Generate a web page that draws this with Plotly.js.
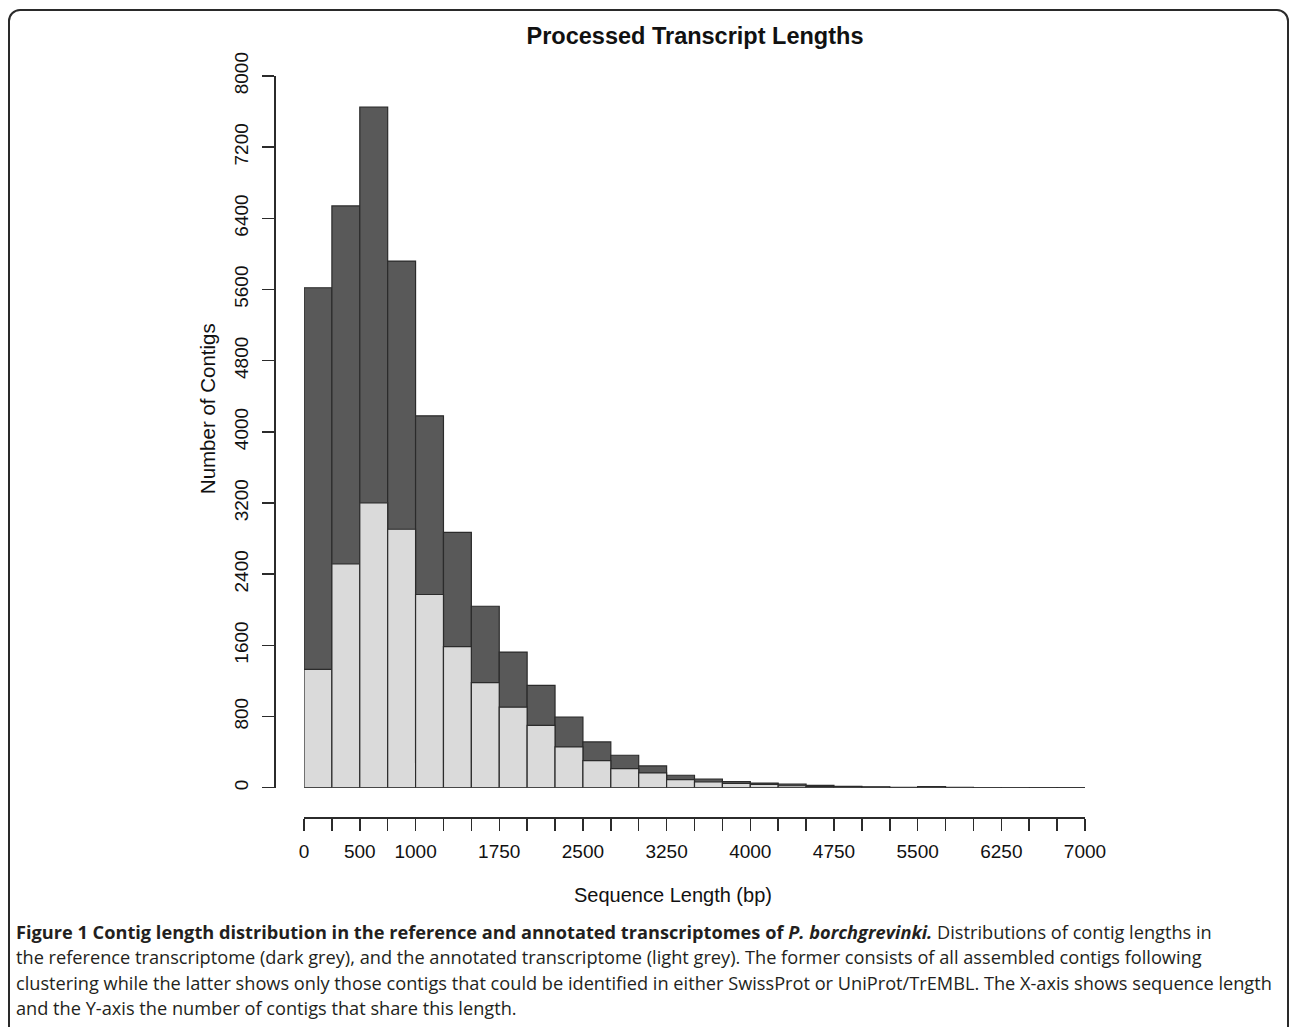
<!DOCTYPE html>
<html>
<head>
<meta charset="utf-8">
<script src="https://cdn.plot.ly/plotly-3.0.1.min.js"></script>
<style>
  html, body { margin: 0; padding: 0; background: #fff; }
  #wrap { position: relative; width: 1290px; height: 1027px; overflow: hidden; }
  #frame { position: absolute; left: 8px; top: 9px; width: 1281px; height: 1100px;
           border: 2px solid #2a2a2a; border-radius: 12px; box-sizing: border-box; }
  #chart { position: absolute; left: 0; top: 0; width: 1290px; height: 1027px; }
</style>
</head>
<body>
<div id="wrap">
  <div id="frame"></div>
  <div id="chart"></div>
</div>
<script>
// Bin starts (bp), bin width 250
const binStarts = [0, 250, 500, 750, 1000, 1250, 1500, 1750, 2000, 2250, 2500, 2750, 3000, 3250,
                   3500, 3750, 4000, 4250, 4500, 4750, 5000, 5250, 5500, 5750, 6000, 6250, 6500, 6750];
const binWidth = 250;
// Reference transcriptome (dark grey)
const referenceCounts = [5620, 6540, 7650, 5920, 4180, 2870, 2040, 1525, 1150, 795, 515, 365, 245, 140,
                         98, 70, 52, 40, 26, 15, 10, 3, 12, 3, 2, 2, 1, 1];
// Annotated transcriptome (light grey)
const annotatedCounts = [1330, 2517, 3202, 2905, 2172, 1586, 1182, 905, 700, 458, 305, 215, 166, 90,
                         64, 48, 37, 22, 12, 8, 5, 2, 5, 1, 1, 1, 0, 0];
const xTickVals = [0, 250, 500, 750, 1000, 1250, 1500, 1750, 2000, 2250, 2500, 2750, 3000, 3250, 3500,
                   3750, 4000, 4250, 4500, 4750, 5000, 5250, 5500, 5750, 6000, 6250, 6500, 6750, 7000];
const xTickText = ["0", "", "500", "", "1000", "", "", "1750", "", "", "2500", "", "", "3250", "",
                   "", "4000", "", "", "4750", "", "", "5500", "", "", "6250", "", "", "7000"];
const yTickVals = [0, 800, 1600, 2400, 3200, 4000, 4800, 5600, 6400, 7200, 8000];

const chartTitle = "Processed Transcript Lengths";
const xTitle = "Sequence Length (bp)";
const yTitle = "Number of Contigs";
const captionLines = [
  "<b>Figure 1 Contig length distribution in the reference and annotated transcriptomes of <i>P. borchgrevinki.</i></b> Distributions of contig lengths in",
  "the reference transcriptome (dark grey), and the annotated transcriptome (light grey). The former consists of all assembled contigs following",
  "clustering while the latter shows only those contigs that could be identified in either SwissProt or UniProt/TrEMBL. The X-axis shows sequence length",
  "and the Y-axis the number of contigs that share this length."
];

// geometry (pixels)
const W = 1290, H = 1027;
const padL = 274, padR = 1085, padT = 75.7, padB = 817;
const plotX0 = 304, plotY0 = 787.7;
const pw = padR - padL, ph = padB - padT;
const px2x = p => (p - padL) / pw;
const py2y = p => (padB - p) / ph;

const lineCol = '#2b2b2b';
const traces = [
  {
    type: 'bar', x: binStarts, y: referenceCounts, width: binWidth, offset: 0,
    marker: { color: '#595959', line: { color: lineCol, width: 1.2 } },
    hoverinfo: 'x+y', name: 'reference'
  },
  {
    type: 'bar', x: binStarts, y: annotatedCounts, width: binWidth, offset: 0,
    marker: { color: '#dadada', line: { color: lineCol, width: 1.2 } },
    hoverinfo: 'x+y', name: 'annotated'
  }
];

const baseFont = 'Liberation Sans, Arial, sans-serif';
const tickFont = { family: baseFont, size: 19, color: '#111' };
const annotations = captionLines.map((t, i) => ({
  text: t, xref: 'paper', yref: 'paper',
  x: px2x(14), y: py2y(932 + i * 25.5),
  xanchor: 'left', yanchor: 'middle', align: 'left', showarrow: false,
  font: { family: 'Open Sans, sans-serif', size: 18.2, color: '#231f20' }
}));
annotations.push({
  text: xTitle, xref: 'paper', yref: 'paper', x: px2x(673), y: py2y(895),
  xanchor: 'center', yanchor: 'middle', showarrow: false,
  font: { family: baseFont, size: 20, color: '#111' }
});
annotations.push({
  text: yTitle, xref: 'paper', yref: 'paper', x: px2x(207), y: py2y(409),
  xanchor: 'center', yanchor: 'middle', textangle: -90, showarrow: false,
  font: { family: baseFont, size: 20.5, color: '#111' }
});

const layout = {
  width: W, height: H,
  margin: { l: padL, r: W - padR, t: padT, b: H - padB, pad: 0 },
  paper_bgcolor: 'rgba(0,0,0,0)', plot_bgcolor: 'rgba(0,0,0,0)',
  barmode: 'overlay', bargap: 0, showlegend: false,
  title: {
    text: '<b>' + chartTitle + '</b>', xref: 'paper', x: px2x(695), xanchor: 'center',
    yref: 'container', y: 1 - 36 / H, yanchor: 'middle',
    font: { family: baseFont, size: 23.5, color: '#111' }
  },
  xaxis: {
    domain: [px2x(plotX0), 1], range: [0, 7000], anchor: 'free', position: 0,
    showgrid: false, zeroline: false, showline: true, linecolor: lineCol, linewidth: 1.5,
    ticks: 'outside', ticklen: 12, tickwidth: 1.5, tickcolor: lineCol,
    tickmode: 'array', tickvals: xTickVals, ticktext: xTickText, tickangle: 0,
    tickfont: tickFont, ticklabelstandoff: 5
  },
  yaxis: {
    domain: [py2y(plotY0), 1], range: [0, 8000], anchor: 'free', position: 0,
    showgrid: false, zeroline: false, showline: true, linecolor: lineCol, linewidth: 1.5,
    ticks: 'outside', ticklen: 12, tickwidth: 1.5, tickcolor: lineCol,
    tickmode: 'array', tickvals: yTickVals, tickangle: -90,
    tickfont: tickFont, ticklabelstandoff: 6
  },
  annotations: annotations
};

Plotly.newPlot('chart', traces, layout, { displayModeBar: false, staticPlot: true });
</script>
</body>
</html>
